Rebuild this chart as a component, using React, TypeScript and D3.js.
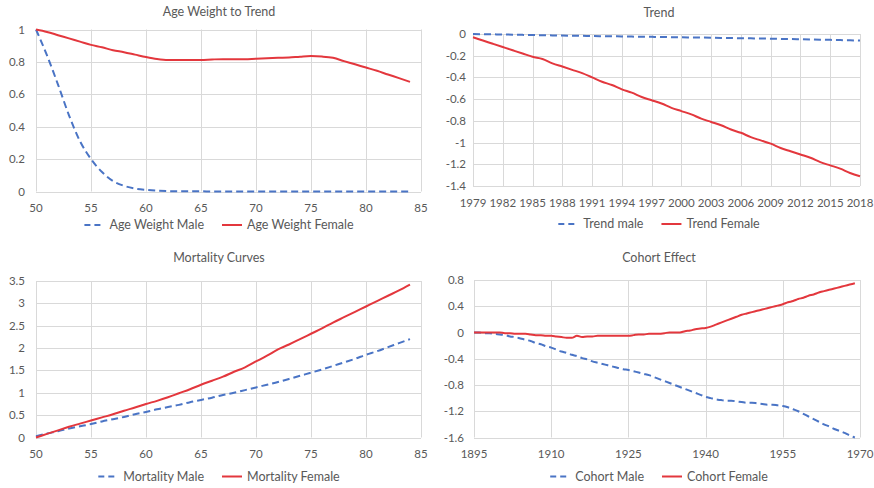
import React, { useEffect, useRef } from "react";
import * as d3 from "d3";

// ---------- DATA ----------
const AGES = d3.range(50, 85);
const TREND_YEARS = d3.range(1979, 2019);
const COHORT_YEARS = d3.range(1895, 1970);

const ageWeightMale = [
  1.0, 0.84, 0.66, 0.47, 0.31, 0.2, 0.12, 0.065, 0.035, 0.018, 0.01, 0.005, 0.002,
  0.001, 0.001, 0.001, 0, 0, 0, 0, 0, 0, 0, 0, 0, 0, 0, 0, 0, 0, 0, 0, 0, 0, 0,
];
const ageWeightFemale = [
  1.0, 0.985, 0.965, 0.945, 0.925, 0.905, 0.89, 0.872, 0.86, 0.845, 0.83, 0.818,
  0.812, 0.812, 0.812, 0.812, 0.815, 0.817, 0.817, 0.817, 0.82, 0.822, 0.825,
  0.827, 0.832, 0.836, 0.833, 0.825, 0.805, 0.785, 0.765, 0.745, 0.722, 0.7, 0.677,
];

const trendMale = [
  0.0, -0.002, -0.003, -0.005, -0.006, -0.008, -0.01, -0.011, -0.013, -0.014,
  -0.016, -0.017, -0.018, -0.02, -0.021, -0.022, -0.024, -0.025, -0.026, -0.028,
  -0.029, -0.03, -0.032, -0.033, -0.034, -0.036, -0.037, -0.039, -0.04, -0.042,
  -0.043, -0.045, -0.046, -0.048, -0.05, -0.052, -0.054, -0.056, -0.058, -0.06,
];
const trendFemale = [
  -0.03, -0.06, -0.09, -0.12, -0.15, -0.18, -0.21, -0.23, -0.27, -0.3, -0.33,
  -0.36, -0.4, -0.44, -0.47, -0.51, -0.54, -0.58, -0.61, -0.64, -0.68, -0.71,
  -0.74, -0.78, -0.81, -0.84, -0.88, -0.91, -0.95, -0.98, -1.01, -1.05, -1.08,
  -1.11, -1.14, -1.18, -1.21, -1.24, -1.28, -1.31,
];

const mortalityMale = [
  0.03, 0.09, 0.14, 0.2, 0.25, 0.3, 0.36, 0.41, 0.46, 0.52, 0.57, 0.63, 0.68,
  0.73, 0.79, 0.84, 0.89, 0.95, 1.0, 1.06, 1.12, 1.18, 1.24, 1.31, 1.38, 1.45,
  1.52, 1.6, 1.68, 1.76, 1.85, 1.93, 2.02, 2.11, 2.2,
];
const mortalityFemale = [
  0.0, 0.08, 0.16, 0.24, 0.31, 0.38, 0.45, 0.52, 0.6, 0.67, 0.75, 0.82, 0.9,
  0.99, 1.08, 1.18, 1.27, 1.36, 1.47, 1.57, 1.7, 1.83, 1.97, 2.08, 2.2, 2.32,
  2.44, 2.57, 2.69, 2.81, 2.93, 3.05, 3.17, 3.29, 3.42,
];

const cohortMale = [
  0.0, 0.0, -0.01, -0.01, -0.02, -0.03, -0.04, -0.06, -0.07, -0.09, -0.11, -0.13,
  -0.16, -0.18, -0.21, -0.23, -0.26, -0.29, -0.31, -0.34, -0.36, -0.39, -0.41,
  -0.44, -0.46, -0.48, -0.5, -0.52, -0.54, -0.56, -0.57, -0.59, -0.61, -0.63,
  -0.65, -0.68, -0.71, -0.74, -0.77, -0.8, -0.83, -0.86, -0.89, -0.92, -0.95,
  -0.98, -1.0, -1.02, -1.03, -1.04, -1.04, -1.05, -1.06, -1.07, -1.07, -1.08,
  -1.09, -1.1, -1.1, -1.11, -1.12, -1.14, -1.17, -1.2, -1.24, -1.28, -1.32,
  -1.36, -1.4, -1.43, -1.47, -1.5, -1.53, -1.57, -1.6,
];
const cohortFemale = [
  0.0, 0.0, 0.0, 0.0, 0.0, 0.0, -0.01, -0.01, -0.02, -0.02, -0.02, -0.03, -0.04,
  -0.04, -0.05, -0.05, -0.06, -0.07, -0.08, -0.08, -0.05, -0.07, -0.06, -0.06,
  -0.05, -0.05, -0.05, -0.05, -0.05, -0.05, -0.05, -0.04, -0.03, -0.03, -0.02,
  -0.02, -0.02, -0.01, 0.0, 0.0, 0.0, 0.02, 0.03, 0.05, 0.06, 0.07, 0.09, 0.12,
  0.15, 0.18, 0.21, 0.24, 0.27, 0.29, 0.31, 0.33, 0.35, 0.37, 0.39, 0.41, 0.43,
  0.46, 0.48, 0.51, 0.53, 0.56, 0.58, 0.61, 0.63, 0.65, 0.67, 0.69, 0.71, 0.73,
  0.75,
];

const ageTicks = [50, 55, 60, 65, 70, 75, 80, 85];
const trendXTicks = [1979, 1982, 1985, 1988, 1991, 1994, 1997, 2000, 2003, 2006, 2009, 2012, 2015, 2018];
const cohortXTicks = [1895, 1910, 1925, 1940, 1955, 1970];
const ageWeightYTicks = [0, 0.2, 0.4, 0.6, 0.8, 1];
const trendYTicks = [0, -0.2, -0.4, -0.6, -0.8, -1, -1.2, -1.4];
const mortalityYTicks = [0, 0.5, 1, 1.5, 2, 2.5, 3, 3.5];
const cohortYTicks = [0.8, 0.4, 0, -0.4, -0.8, -1.2, -1.6];

// ---------- STYLE ----------
const BLUE = "#4a74c5";
const RED = "#e3373d";
const GRID = "#d9d9d9";
const TEXT = "#595959";
const FONT = "Lato, 'Open Sans', sans-serif";

type Series = { name: string; x: number[]; y: number[]; color: string; dashed: boolean };
type PanelCfg = {
  title: string;
  left: number; right: number; top: number; bottom: number;
  cx: number; titleY: number; legendY: number; yLabelGap: number;
  xDomain: [number, number]; xTicks: number[];
  yDomain: [number, number]; yTicks: number[];
  series: Series[];
};

const fmt = (v: number) => String(Math.round(v * 10) / 10);

const panels: PanelCfg[] = [
  {
    title: "Age Weight to Trend",
    left: 36, right: 421, top: 29.5, bottom: 191.5,
    cx: 219, titleY: 12, legendY: 225, yLabelGap: 11,
    xDomain: [50, 85], xTicks: ageTicks, yDomain: [0, 1], yTicks: ageWeightYTicks,
    series: [
      { name: "Age Weight Male", x: AGES, y: ageWeightMale, color: BLUE, dashed: true },
      { name: "Age Weight Female", x: AGES, y: ageWeightFemale, color: RED, dashed: false },
    ],
  },
  {
    title: "Trend",
    left: 473, right: 860, top: 34, bottom: 186,
    cx: 659, titleY: 12.5, legendY: 224, yLabelGap: 7,
    xDomain: [1979, 2018], xTicks: trendXTicks, yDomain: [-1.4, 0], yTicks: trendYTicks,
    series: [
      { name: "Trend male", x: TREND_YEARS, y: trendMale, color: BLUE, dashed: true },
      { name: "Trend Female", x: TREND_YEARS, y: trendFemale, color: RED, dashed: false },
    ],
  },
  {
    title: "Mortality Curves",
    left: 36, right: 421, top: 281, bottom: 437.5,
    cx: 219, titleY: 258, legendY: 476.5, yLabelGap: 11,
    xDomain: [50, 85], xTicks: ageTicks, yDomain: [0, 3.5], yTicks: mortalityYTicks,
    series: [
      { name: "Mortality Male", x: AGES, y: mortalityMale, color: BLUE, dashed: true },
      { name: "Mortality Female", x: AGES, y: mortalityFemale, color: RED, dashed: false },
    ],
  },
  {
    title: "Cohort Effect",
    left: 474, right: 860, top: 280, bottom: 437.5,
    cx: 659, titleY: 257.5, legendY: 476.5, yLabelGap: 10,
    xDomain: [1895, 1970], xTicks: cohortXTicks, yDomain: [-1.6, 0.8], yTicks: cohortYTicks,
    series: [
      { name: "Cohort Male", x: COHORT_YEARS, y: cohortMale, color: BLUE, dashed: true },
      { name: "Cohort Female", x: COHORT_YEARS, y: cohortFemale, color: RED, dashed: false },
    ],
  },
];

export default function App() {
  const ref = useRef<SVGSVGElement | null>(null);

  useEffect(() => {
    const svg = d3.select(ref.current);
    svg.selectAll("*").remove();

    panels.forEach((p) => {
      const g = svg.append("g");
      const x = d3.scaleLinear().domain(p.xDomain).range([p.left, p.right]);
      const y = d3.scaleLinear().domain(p.yDomain).range([p.bottom, p.top]);

      // grid
      g.selectAll(".vg").data(p.xTicks).enter().append("line")
        .attr("x1", (d) => Math.round(x(d)) + 0.5).attr("x2", (d) => Math.round(x(d)) + 0.5)
        .attr("y1", p.top).attr("y2", p.bottom)
        .attr("stroke", GRID).attr("stroke-width", 1);
      g.selectAll(".hg").data(p.yTicks).enter().append("line")
        .attr("x1", p.left).attr("x2", p.right)
        .attr("y1", (d) => Math.round(y(d)) + 0.5).attr("y2", (d) => Math.round(y(d)) + 0.5)
        .attr("stroke", GRID).attr("stroke-width", 1);

      // y tick labels
      g.selectAll(".yl").data(p.yTicks).enter().append("text")
        .attr("x", p.left - p.yLabelGap).attr("y", (d) => y(d))
        .attr("dy", "0.35em").attr("text-anchor", "end")
        .attr("font-family", FONT).attr("font-size", 11.5).attr("fill", TEXT)
        .text((d) => fmt(d));

      // x tick labels
      g.selectAll(".xl").data(p.xTicks).enter().append("text")
        .attr("x", (d) => x(d)).attr("y", p.bottom + 16.5)
        .attr("dy", "0.35em").attr("text-anchor", "middle")
        .attr("font-family", FONT).attr("font-size", 11.5).attr("fill", TEXT)
        .text((d) => String(d));

      // title
      g.append("text").attr("x", p.cx).attr("y", p.titleY).attr("dy", "0.35em")
        .attr("text-anchor", "middle").attr("font-family", FONT).attr("font-size", 12.5)
        .attr("fill", TEXT).text(p.title);

      // lines
      p.series.forEach((s) => {
        const pts = s.x.map((xv, i) => [xv, s.y[i]] as [number, number]);
        const line = d3.line<[number, number]>()
          .x((d) => x(d[0])).y((d) => y(d[1]))
          .curve(d3.curveMonotoneX);
        g.append("path").attr("d", line(pts) || "")
          .attr("fill", "none").attr("stroke", s.color).attr("stroke-width", 2)
          .attr("stroke-dasharray", s.dashed ? "7,4" : null)
          .attr("stroke-linejoin", "round");
      });

      // legend
      const lg = g.append("g");
      const symW = 20, symGap = 5, entryGap = 18;
      let cursor = 0;
      p.series.forEach((s, i) => {
        const eg = lg.append("g");
        eg.append("line").attr("x1", cursor).attr("x2", cursor + symW)
          .attr("y1", p.legendY).attr("y2", p.legendY)
          .attr("stroke", s.color).attr("stroke-width", 2)
          .attr("stroke-dasharray", s.dashed ? "6,4" : null);
        const t = eg.append("text").attr("x", cursor + symW + symGap).attr("y", p.legendY)
          .attr("dy", "0.35em").attr("font-family", FONT).attr("font-size", 12.5)
          .attr("fill", TEXT).text(s.name);
        const w = (t.node() as SVGTextElement).getComputedTextLength();
        cursor += symW + symGap + w + (i < p.series.length - 1 ? entryGap : 0);
      });
      lg.attr("transform", `translate(${p.cx - cursor / 2},0)`);
    });
  }, []);

  return (
    <svg
      ref={ref}
      width={874}
      height={488}
      style={{ position: "absolute", left: 0, top: 0, background: "#fff" }}
    />
  );
}
